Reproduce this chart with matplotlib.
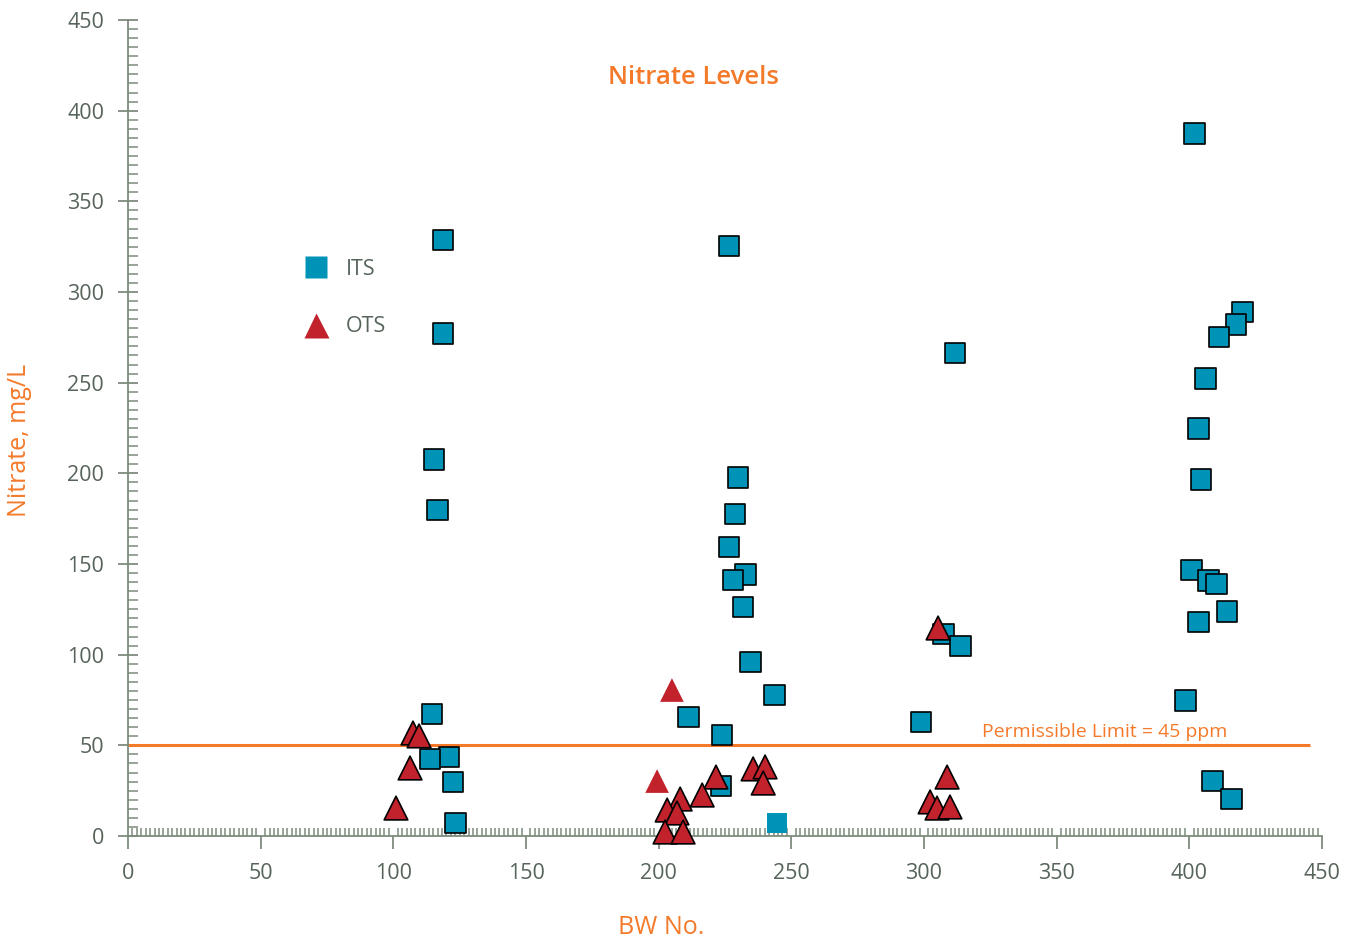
import matplotlib.pyplot as plt
from matplotlib.lines import Line2D
from matplotlib.ticker import MultipleLocator

# ITS wells (squares)
its_bw = [118.7, 118.7, 115.3, 116.5, 114.6, 121.0, 113.8, 122.5, 123.3,
          226.5, 229.9, 228.8, 226.5, 232.6, 228.0, 231.8, 234.5, 211.1, 243.5,
          223.9, 223.5, 244.6,
          311.7, 307.2, 313.6, 298.9,
          401.8, 419.9, 417.6, 411.2, 406.0, 403.3, 404.4, 400.7, 407.1, 410.1,
          414.2, 403.3, 398.4, 408.6, 415.8]
its_no3 = [328.7, 276.9, 207.4, 179.8, 67.3, 43.6, 42.5, 29.8, 7.2,
           325.4, 197.5, 177.6, 159.4, 144.0, 141.2, 126.3, 96.0, 65.6, 77.8,
           55.7, 27.6, 7.2,
           266.4, 111.4, 104.8, 62.9,
           387.2, 289.0, 281.9, 275.2, 252.1, 224.5, 196.4, 146.7, 140.7, 139.0,
           123.6, 118.0, 74.5, 30.3, 20.4]

# OTS wells (triangles)
ots_bw = [101.0, 106.3, 107.4, 109.7,
          205.0, 199.4, 221.6, 216.4, 208.1, 203.2, 206.9, 235.6, 240.1, 239.4,
          202.4, 209.2,
          305.3, 308.7, 302.3, 304.9, 309.8]
ots_no3 = [15.4, 37.5, 56.8, 55.2,
           80.5, 30.3, 32.5, 22.6, 20.4, 14.3, 12.7, 37.0, 38.1, 29.2,
           2.2, 2.2,
           114.7, 32.5, 18.8, 15.4, 16.0]

limit = 50
limit_text = 'Permissible Limit = 45 ppm'

# points drawn without a black outline in the original
its_plain = [21]
ots_plain = [4, 5]

blue = '#0093b8'
red = '#c1222b'
orange = '#f47a2a'
axis_col = '#7d8b7d'
text_col = '#56645a'

plt.rcParams['font.family'] = ['Open Sans', 'DejaVu Sans']

fig = plt.figure(figsize=(13.62, 9.39), dpi=100)
ax = fig.add_axes([128 / 1362, 103 / 939, 1194 / 1362, 816 / 939])

ax.plot([0, 445.5], [limit, limit], color=orange, lw=2.2, zorder=2, solid_capstyle='butt')
ax.text(322, limit + 2.5, limit_text, color=orange, fontsize=14, ha='left', va='bottom')

its_ec = ['none' if i in its_plain else 'black' for i in range(len(its_bw))]
ots_ec = ['none' if i in ots_plain else 'black' for i in range(len(ots_bw))]

ax.scatter(its_bw, its_no3, marker='s', s=225, c=blue, edgecolors=its_ec,
           linewidths=1.2, zorder=3, clip_on=False)
ax.scatter(ots_bw, ots_no3, marker='^', s=290, c=red, edgecolors=ots_ec,
           linewidths=1.2, zorder=4, clip_on=False)

ax.set_xlim(0, 450)
ax.set_ylim(0, 450)
ax.xaxis.set_major_locator(MultipleLocator(50))
ax.xaxis.set_minor_locator(MultipleLocator(50 / 30))
ax.yaxis.set_major_locator(MultipleLocator(50))
ax.yaxis.set_minor_locator(MultipleLocator(5))

for s in ['top', 'right']:
    ax.spines[s].set_visible(False)
for s in ['left', 'bottom']:
    ax.spines[s].set_color(axis_col)
    ax.spines[s].set_linewidth(1.3)

ax.tick_params(axis='y', which='major', direction='inout', length=14.4, width=1.3,
               color=axis_col, labelcolor=text_col, labelsize=15.5, pad=10)
ax.tick_params(axis='y', which='minor', direction='in', length=7.2, width=1.1, color=axis_col)
ax.tick_params(axis='x', which='major', direction='out', length=9.4, width=1.3,
               color=axis_col, labelcolor=text_col, labelsize=15.5, pad=10)
ax.tick_params(axis='x', which='minor', direction='in', length=5.8, width=1.1, color=axis_col)

fig.text(661 / 1362, 1 - 927 / 939, 'BW No.', color=orange, fontsize=18,
         ha='center', va='center')
fig.text(20 / 1362, 1 - 440 / 939, 'Nitrate, mg/L', color=orange, fontsize=18,
         ha='center', va='center', rotation=90)
fig.text(694 / 1362, 1 - 77 / 939, 'Nitrate Levels', color=orange, fontsize=18.5,
         ha='center', va='center', fontweight='semibold')

handles = [Line2D([], [], ls='none', marker='s', ms=16, mfc=blue, mec='none'),
           Line2D([], [], ls='none', marker='^', ms=18, mfc=red, mec='none')]
leg = ax.legend(handles, ['ITS', 'OTS'], loc='upper left', frameon=False,
                bbox_to_anchor=(294 / 1362, (939 - 259) / 939), bbox_transform=fig.transFigure,
                fontsize=15.5, labelspacing=1.68, handletextpad=0.4, borderpad=0,
                borderaxespad=0)
for t in leg.get_texts():
    t.set_color(text_col)

fig.savefig('out.png', dpi=100)
